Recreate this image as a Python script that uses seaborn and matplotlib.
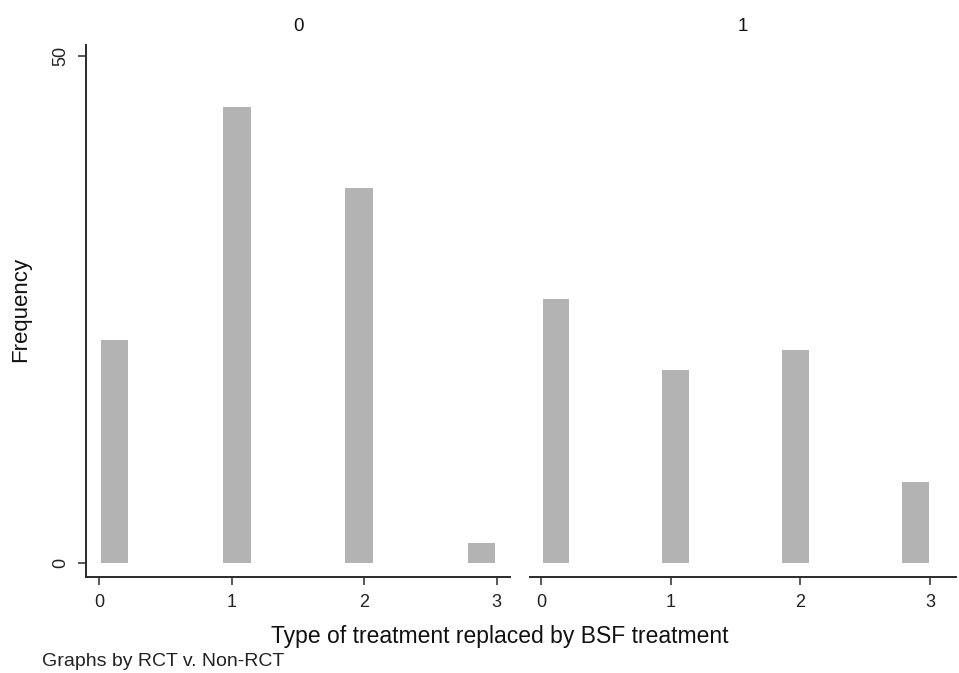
import numpy as np
import pandas as pd
import matplotlib
matplotlib.use("Agg")
import matplotlib.pyplot as plt
import seaborn as sns

# Treatment type codes and the number of studies per code, split by RCT status
treatment_types = [0, 1, 2, 3]
counts_non_rct = [22, 45, 37, 2]   # RCT = 0
counts_rct = [26, 19, 21, 8]       # RCT = 1
panel_titles = ["0", "1"]
x_ticks = [0, 1, 2, 3]
y_ticks = [0, 50]

# Expand counts into one row per study so the histogram does the binning
df = pd.DataFrame({
    "treatment": np.concatenate([np.repeat(treatment_types, counts_non_rct),
                                 np.repeat(treatment_types, counts_rct)]),
    "rct": np.concatenate([np.repeat(0, sum(counts_non_rct)),
                           np.repeat(1, sum(counts_rct))]),
})

sns.set_theme(style="white")
plt.rcParams["font.family"] = ["Liberation Sans", "DejaVu Sans"]

fig = plt.figure(figsize=(9.59, 6.73), dpi=100)
W, H = 959, 673
ax0 = fig.add_axes([86 / W, (H - 577) / H, 424 / W, 532 / H])
ax1 = fig.add_axes([530 / W, (H - 577) / H, 426 / W, 532 / H], sharey=ax0)

bar_color = "#b3b3b3"
axis_color = "#2a2a2a"
for ax, grp, title in zip([ax0, ax1], [0, 1], panel_titles):
    sns.histplot(data=df[df["rct"] == grp], x="treatment", bins=13,
                 binrange=(0, 3), shrink=0.9, color=bar_color, alpha=1,
                 edgecolor="none", linewidth=0, ax=ax)
    ax.set_title(title, fontsize=13.5, pad=10, color="#111111")
    ax.set_xticks(x_ticks)
    ax.set_xticklabels([str(t) for t in x_ticks], fontsize=13, color="#222222")
    ax.set_xlabel("")
    ax.tick_params(axis="x", direction="out", length=6, width=1.1,
                   color=axis_color, bottom=True, pad=6)
    for s in ["top", "right"]:
        ax.spines[s].set_visible(False)
    ax.spines["bottom"].set_color(axis_color)
    ax.spines["bottom"].set_linewidth(1.4)

ax0.set_xlim(-0.1, 3.1)
ax1.set_xlim(-0.085, 3.2)
ax0.set_ylim(-1.38, 51.1)
ax0.set_yticks(y_ticks)
ax0.set_yticklabels([str(t) for t in y_ticks], rotation=90, va="center",
                    fontsize=13, color="#222222")
ax0.tick_params(axis="y", direction="out", length=6, width=1.1,
                color=axis_color, left=True, pad=6)
ax0.set_ylabel("Frequency", fontsize=16, color="#111111")
ax0.yaxis.set_label_coords(-0.13, 0.502)
ax0.spines["left"].set_color(axis_color)
ax0.spines["left"].set_linewidth(1.4)

ax1.spines["left"].set_visible(False)
ax1.tick_params(axis="y", left=False, labelleft=False)
ax1.set_ylabel("")

fig.text(500 / W, 1 - 636 / H, "Type of treatment replaced by BSF treatment",
         ha="center", va="center", fontsize=16.5, color="#111111")
fig.text(42 / W, 1 - 662 / H, "Graphs by RCT v. Non-RCT",
         ha="left", va="center", fontsize=14, color="#222222")

fig.savefig("out.png", dpi=100, facecolor="white")
